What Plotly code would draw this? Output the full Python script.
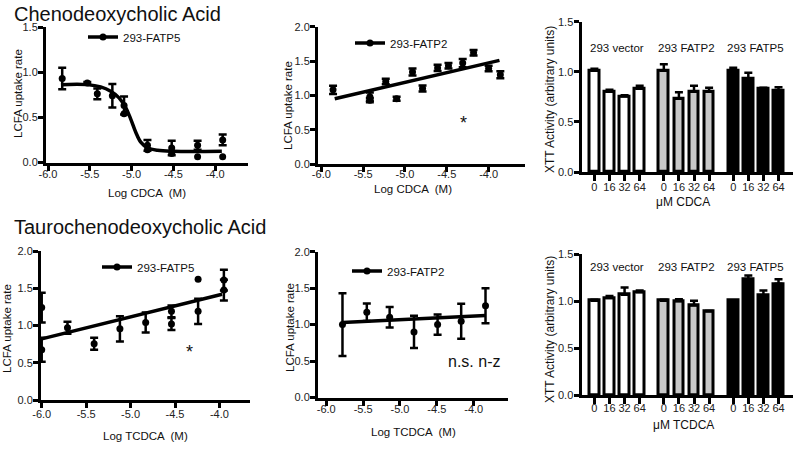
import plotly.graph_objects as go

W, H = 800, 449
FONT = "Liberation Sans, Arial, sans-serif"

# ---------------- data ----------------
# Panel 1: CDCA, 293-FATP5 (two replicate series)
p1_x_a = [-5.83, -5.53, -5.41, -5.23, -5.09, -4.81, -4.52, -4.21, -3.91]
p1_y_a = [0.93, 0.88, 0.76, 0.74, 0.63, 0.19, 0.16, 0.19, 0.25]
p1_e_a = [0.12, 0.01, 0.06, 0.13, 0.10, 0.06, 0.08, 0.05, 0.06]
p1_x_b = [-5.09, -4.81, -4.52, -4.21, -3.91]
p1_y_b = [0.54, 0.14, 0.10, 0.065, 0.065]
# fitted sigmoid
p1_fit_x = [-5.845, -5.53, -5.37, -5.25, -5.15, -5.07, -5.01, -4.95, -4.89, -4.81, -4.69, -4.5, -3.92]
p1_fit_y = [0.862, 0.862, 0.837, 0.789, 0.716, 0.607, 0.48, 0.335, 0.225, 0.163, 0.135, 0.124, 0.124]

# Panel 2: CDCA, 293-FATP2
p2_x = [-5.86, -5.42, -5.42, -5.23, -5.10, -4.91, -4.79, -4.61, -4.48, -4.31, -4.18, -4.00, -3.86]
p2_y = [1.08, 0.98, 0.93, 1.20, 0.95, 1.34, 1.10, 1.40, 1.43, 1.47, 1.62, 1.39, 1.30]
p2_e = [0.06, 0.06, 0.03, 0.04, 0.03, 0.05, 0.045, 0.045, 0.04, 0.06, 0.04, 0.04, 0.05]
p2_fit_x = [-5.84, -3.87]
p2_fit_y = [0.95, 1.51]

# Panel 4: TCDCA, 293-FATP5
p4_x = [-6.0, -6.0, -5.71, -5.41, -5.12, -4.83, -4.54, -4.54, -4.24, -3.95, -3.95]
p4_y = [1.24, 0.675, 0.97, 0.755, 0.955, 1.04, 1.19, 1.02, 1.19, 1.61, 1.475]
p4_e = [0.20, 0.16, 0.08, 0.08, 0.17, 0.135, 0.08, 0.08, 0.17, 0.14, 0.14]
p4_out_x = [-4.24]
p4_out_y = [1.62]
p4_fit_x = [-6.0, -3.97]
p4_fit_y = [0.82, 1.42]

# Panel 5: TCDCA, 293-FATP2
p5_x = [-5.78, -5.45, -5.14, -4.81, -4.49, -4.17, -3.84]
p5_y = [1.0, 1.17, 1.10, 0.90, 1.0, 1.045, 1.26]
p5_e = [0.43, 0.12, 0.14, 0.22, 0.14, 0.24, 0.24]
p5_fit_x = [-5.78, -3.84]
p5_fit_y = [1.03, 1.125]

# Bar panels (XTT)
groups = ["293 vector", "293 FATP2", "293 FATP5"]
doses = ["0", "16", "32", "64"]
bar_colors = ["white", "#c8c8c8", "black"]
cdca_vals = [[1.01, 0.80, 0.755, 0.83], [1.01, 0.73, 0.80, 0.80], [1.01, 0.93, 0.83, 0.81]]
cdca_errs = [[0.02, 0.02, 0.01, 0.03], [0.065, 0.065, 0.06, 0.04], [0.03, 0.06, 0.01, 0.035]]
tcdca_vals = [[1.005, 1.035, 1.07, 1.095], [1.005, 1.0, 0.955, 0.89], [1.005, 1.23, 1.06, 1.185]]
tcdca_errs = [[0.01, 0.02, 0.075, 0.02], [0.01, 0.02, 0.05, 0.005], [0.005, 0.045, 0.055, 0.05]]

x_ticks = [-6.0, -5.5, -5.0, -4.5, -4.0]
x_tick_text = ["-6.0", "-5.5", "-5.0", "-4.5", "-4.0"]
y_ticks_15 = [0.0, 0.5, 1.0, 1.5]
y_ticks_15_text = ["0.0", "0.5", "1.0", "1.5"]
y_ticks_20 = [0.0, 0.5, 1.0, 1.5, 2.0]
y_ticks_20_text = ["0.0", "0.5", "1.0", "1.5", "2.0"]

GROUP_STEP = 4.6  # spacing between groups in bar index units

# ---------------- figure ----------------
fig = go.Figure()

def xdom(a, b):
    return [a / W, b / W]

def ydom(top, bottom):
    return [1 - bottom / H, 1 - top / H]

def axis_common(standoff=0):
    return dict(showline=True, linewidth=3, linecolor="black", ticks="outside",
                ticklen=5, tickwidth=2.5, tickcolor="black", showgrid=False,
                zeroline=False, tickfont=dict(family=FONT, size=11, color="#222"),
                fixedrange=True, automargin=False, ticklabelstandoff=standoff)

err_style = dict(type="data", thickness=2.5, width=4, color="black")

def scatter_pts(x, y, e, xa, ya):
    kw = dict(x=x, y=y, mode="markers", xaxis=xa, yaxis=ya, showlegend=False,
              marker=dict(color="black", size=7))
    if e is not None:
        kw["error_y"] = dict(array=e, **err_style)
    return go.Scatter(**kw)

def fit_line(x, y, xa, ya, shape="linear"):
    return go.Scatter(x=x, y=y, mode="lines", xaxis=xa, yaxis=ya, showlegend=False,
                      line=dict(color="black", width=3.5, shape=shape, smoothing=1.0))

def legend_trace(name, xa, ya, leg):
    return go.Scatter(x=[None], y=[None], mode="lines+markers", name=name, xaxis=xa, yaxis=ya,
                      legend=leg, showlegend=True,
                      line=dict(color="black", width=3.5), marker=dict(color="black", size=7))

# Panel 1
fig.add_trace(fit_line(p1_fit_x, p1_fit_y, "x", "y", shape="spline"))
fig.add_trace(scatter_pts(p1_x_a, p1_y_a, p1_e_a, "x", "y"))
fig.add_trace(scatter_pts(p1_x_b, p1_y_b, None, "x", "y"))
fig.add_trace(legend_trace("293-FATP5", "x", "y", "legend"))

# Panel 2
fig.add_trace(fit_line(p2_fit_x, p2_fit_y, "x2", "y2"))
fig.add_trace(scatter_pts(p2_x, p2_y, p2_e, "x2", "y2"))
fig.add_trace(legend_trace("293-FATP2", "x2", "y2", "legend2"))

# Panel 4
fig.add_trace(fit_line(p4_fit_x, p4_fit_y, "x4", "y4"))
fig.add_trace(scatter_pts(p4_x, p4_y, p4_e, "x4", "y4"))
fig.add_trace(scatter_pts(p4_out_x, p4_out_y, None, "x4", "y4"))
fig.add_trace(legend_trace("293-FATP5", "x4", "y4", "legend3"))

# Panel 5
fig.add_trace(fit_line(p5_fit_x, p5_fit_y, "x5", "y5"))
fig.add_trace(scatter_pts(p5_x, p5_y, p5_e, "x5", "y5"))
fig.add_trace(legend_trace("293-FATP2", "x5", "y5", "legend4"))

# Bar panels
bar_pos = [[g * GROUP_STEP + i for i in range(len(doses))] for g in range(len(groups))]
for vals, errs, xa, ya in [(cdca_vals, cdca_errs, "x3", "y3"), (tcdca_vals, tcdca_errs, "x6", "y6")]:
    for g in range(len(groups)):
        fig.add_trace(go.Bar(
            x=bar_pos[g], y=vals[g], xaxis=xa, yaxis=ya, width=0.64, showlegend=False,
            marker=dict(color=bar_colors[g], line=dict(color="black", width=3)),
            error_y=dict(array=errs[g], arrayminus=[0] * len(doses), symmetric=False, **err_style),
        ))

all_pos = [p for grp in bar_pos for p in grp]
all_txt = doses * len(groups)

layout = dict(
    width=W, height=H, margin=dict(l=0, r=0, t=0, b=0, pad=0, autoexpand=False),
    paper_bgcolor="white", plot_bgcolor="white",
    font=dict(family=FONT, color="#111"),
    bargap=0,
)

# axes
layout["xaxis"] = dict(axis_common(-6), domain=xdom(46, 248), range=[-6.024, -3.607], anchor="y",
                       tickvals=x_ticks, ticktext=x_tick_text)
layout["yaxis"] = dict(axis_common(-2), domain=ydom(27, 162.5), range=[0, 1.5], anchor="x",
                       tickvals=y_ticks_15, ticktext=y_ticks_15_text)
layout["xaxis2"] = dict(axis_common(-7), domain=xdom(318, 525), range=[-6.04, -3.565], anchor="y2",
                        tickvals=x_ticks, ticktext=x_tick_text)
layout["yaxis2"] = dict(axis_common(-2), domain=ydom(26.7, 164), range=[0, 2], anchor="x2",
                        tickvals=y_ticks_20, ticktext=y_ticks_20_text)
layout["xaxis3"] = dict(axis_common(-3), domain=xdom(581.5, 793), range=[-0.855, 13.16], anchor="y3",
                        tickvals=all_pos, ticktext=all_txt, ticklen=6)
layout["yaxis3"] = dict(axis_common(-2), domain=ydom(21.7, 172), range=[0, 1.5], anchor="x3",
                        tickvals=y_ticks_15, ticktext=y_ticks_15_text)
layout["xaxis4"] = dict(axis_common(-3), domain=xdom(41, 250), range=[-6.008, -3.656], anchor="y4",
                        tickvals=x_ticks, ticktext=x_tick_text)
layout["yaxis4"] = dict(axis_common(-2), domain=ydom(251, 400), range=[0, 2], anchor="x4",
                        tickvals=y_ticks_20, ticktext=y_ticks_20_text)
layout["xaxis5"] = dict(axis_common(-6), domain=xdom(318, 508), range=[-6.112, -3.535], anchor="y5",
                        tickvals=x_ticks, ticktext=x_tick_text)
layout["yaxis5"] = dict(axis_common(-2), domain=ydom(251.7, 397.5), range=[0, 2], anchor="x5",
                        tickvals=y_ticks_20, ticktext=y_ticks_20_text)
layout["xaxis6"] = dict(axis_common(-5), domain=xdom(581.5, 793), range=[-0.855, 13.16], anchor="y6",
                        tickvals=all_pos, ticktext=all_txt, ticklen=6)
layout["yaxis6"] = dict(axis_common(-2), domain=ydom(254.3, 395), range=[0, 1.5], anchor="x6",
                        tickvals=y_ticks_15, ticktext=y_ticks_15_text)

# legends
def leg(xpx, ypx):
    return dict(x=xpx / W, y=1 - ypx / H, xanchor="left", yanchor="middle",
                bgcolor="rgba(0,0,0,0)", borderwidth=0, itemwidth=30,
                font=dict(family=FONT, size=11.5, color="#111"))

layout["legend"] = leg(83, 37)
layout["legend2"] = leg(350, 43)
layout["legend3"] = leg(97, 267)
layout["legend4"] = leg(347, 271)

fig.update_layout(**layout)

# annotations (text)
def ann(text, xpx, ypx, size=11.5, angle=0, xanchor="center"):
    fig.add_annotation(text=text, x=xpx / W, y=1 - ypx / H, xref="paper", yref="paper",
                       showarrow=False, textangle=angle, xanchor=xanchor, yanchor="middle",
                       font=dict(family=FONT, size=size, color="#111"))

ann("Chenodeoxycholic Acid", 12, 14, size=20, xanchor="left")
ann("Taurochenodeoxycholic Acid", 12, 227, size=20, xanchor="left")

ann("LCFA uptake rate", 18, 94, angle=-90)
ann("LCFA uptake rate", 288, 106, angle=-90)
ann("LCFA uptake rate", 7, 329, angle=-90)
ann("LCFA uptake rate", 290, 328, angle=-90)
ann("XTT Activity (arbitrary units)", 550, 100, size=12, angle=-90)
ann("XTT Activity (arbitrary units)", 550, 330, size=12, angle=-90)

ann("Log CDCA \u00a0(M)", 147, 193)
ann("Log CDCA \u00a0(M)", 413, 189)
ann("Log TCDCA \u00a0(M)", 145, 436)
ann("Log TCDCA \u00a0(M)", 413, 432)
ann("\u03bcM CDCA", 683, 202, size=12)
ann("\u03bcM TCDCA", 683, 425, size=12)

# group labels on bar panels (data coordinates)
for g, name in enumerate(groups):
    cx = (bar_pos[g][0] + bar_pos[g][-1]) / 2
    fig.add_annotation(text=name, x=cx, y=1.24, xref="x3", yref="y3", showarrow=False,
                       font=dict(family=FONT, size=11.5, color="#111"))
    fig.add_annotation(text=name, x=cx, y=1.365, xref="x6", yref="y6", showarrow=False,
                       font=dict(family=FONT, size=11.5, color="#111"))

# significance marks
fig.add_annotation(text="*", x=-4.30, y=0.60, xref="x2", yref="y2", showarrow=False,
                   font=dict(family=FONT, size=18, color="#111"))
fig.add_annotation(text="*", x=-4.34, y=0.65, xref="x4", yref="y4", showarrow=False,
                   font=dict(family=FONT, size=18, color="#111"))
fig.add_annotation(text="n.s. n-z", x=-4.0, y=0.50, xref="x5", yref="y5", showarrow=False,
                   font=dict(family=FONT, size=16, color="#111"))

fig.write_html("out.html", config={"displayModeBar": False},
               post_script="document.body.style.margin='0';document.body.style.padding='0';"
                           "document.body.style.overflow='hidden';")
